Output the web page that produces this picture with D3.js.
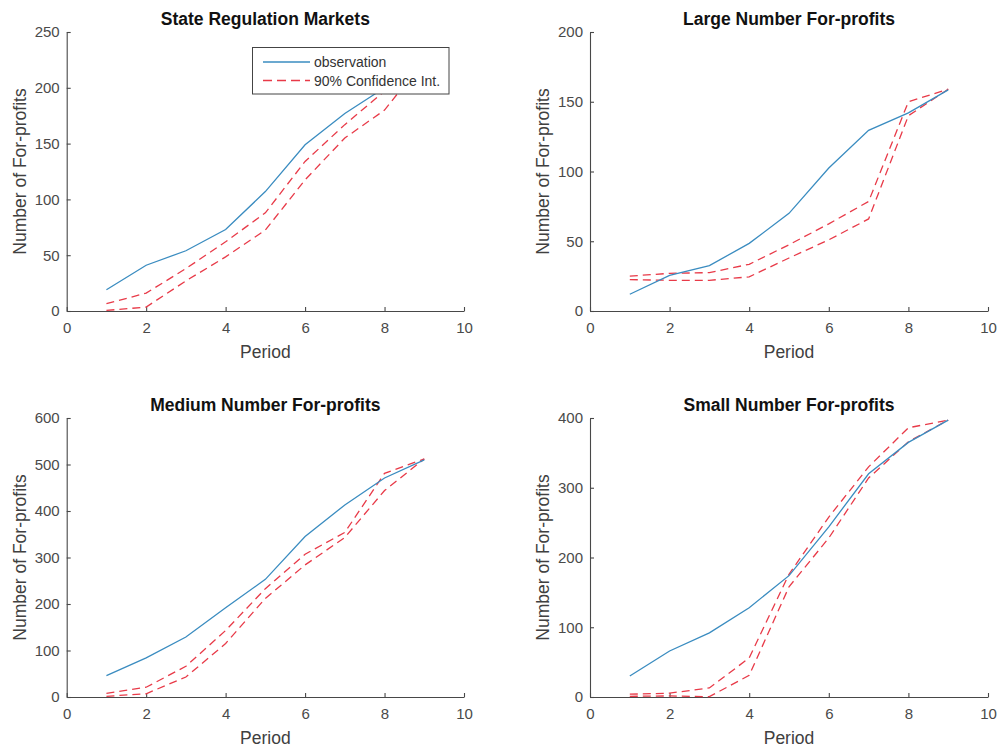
<!DOCTYPE html>
<html>
<head>
<meta charset="utf-8">
<script src="https://cdn.jsdelivr.net/npm/d3@7"></script>
<style>
  html, body { margin: 0; padding: 0; background: #fff; }
  svg { display: block; font-family: "Liberation Sans", Arial, Helvetica, sans-serif; }
</style>
</head>
<body>
<svg id="chart" width="1002" height="753"></svg>
<script>
// ---- data ----
const periods = [1, 2, 3, 4, 5, 6, 7, 8, 9];
const xTicks = [0, 2, 4, 6, 8, 10];

const stateObs   = [19, 41, 54, 73, 107, 149, 177, 200, 225];
const stateUpper = [6.5, 16, 38, 62, 88, 134, 167, 197, 225];
const stateLower = [0.5, 3.5, 27, 48.5, 72.5, 117.5, 155, 180, 225];
const stateTicks = [0, 50, 100, 150, 200, 250];

const largeObs   = [12, 25.5, 32.5, 48.5, 70, 102.5, 129.5, 142, 158.5];
const largeUpper = [25, 27, 27.5, 33.5, 47.5, 62.5, 78.5, 150, 159];
const largeLower = [22.5, 22, 22, 24.5, 38, 51, 66, 140, 159];
const largeTicks = [0, 50, 100, 150, 200];

const mediumObs   = [46, 84, 129, 192, 253, 345, 413, 471, 510];
const mediumUpper = [8, 21, 66, 143, 233, 307, 354, 481, 512];
const mediumLower = [1.5, 7, 43, 115, 212, 284, 343, 444, 512];
const mediumTicks = [0, 100, 200, 300, 400, 500, 600];

const smallObs   = [30, 66, 92, 128, 174, 244, 320, 365, 397];
const smallUpper = [4, 5.5, 13, 56, 176, 258, 330, 386, 397];
const smallLower = [1, 1.5, 0.5, 31, 158, 228, 314, 366, 397];
const smallTicks = [0, 100, 200, 300, 400];

const titles = ["State Regulation Markets", "Large Number For-profits",
                "Medium Number For-profits", "Small Number For-profits"];
const xLabel = "Period";
const yLabel = "Number of For-profits";
const legendLabels = ["observation", "90% Confidence Int."];

// ---- layout ----
const panels = [
  { title: titles[0], obs: stateObs,  up: stateUpper,  lo: stateLower,  yTicks: stateTicks,  x0: 66.7, x1: 464, y0: 32,  y1: 311, legend: true },
  { title: titles[1], obs: largeObs,  up: largeUpper,  lo: largeLower,  yTicks: largeTicks,  x0: 590,  x1: 988, y0: 32,  y1: 311 },
  { title: titles[2], obs: mediumObs, up: mediumUpper, lo: mediumLower, yTicks: mediumTicks, x0: 66.7, x1: 464, y0: 418, y1: 697 },
  { title: titles[3], obs: smallObs,  up: smallUpper,  lo: smallLower,  yTicks: smallTicks,  x0: 590,  x1: 988, y0: 418, y1: 697 }
];

const blue = "#3a8cc0";
const red = "#e83a48";
const axisCol = "#484848";
const tickTextCol = "#4a4a4a";

const svg = d3.select("#chart");

panels.forEach(p => {
  const x = d3.scaleLinear().domain([0, 10]).range([p.x0, p.x1]);
  const yMax = p.yTicks[p.yTicks.length - 1];
  const y = d3.scaleLinear().domain([0, yMax]).range([p.y1, p.y0]);
  const g = svg.append("g");

  // axes
  const xa = g.append("g").attr("transform", `translate(0,${p.y1})`)
    .call(d3.axisBottom(x).tickValues(xTicks).tickSizeInner(-4).tickSizeOuter(0).tickPadding(11.5).tickFormat(d3.format("d")));
  const ya = g.append("g").attr("transform", `translate(${p.x0},0)`)
    .call(d3.axisLeft(y).tickValues(p.yTicks).tickSizeInner(-4).tickSizeOuter(0).tickPadding(7).tickFormat(d3.format("d")));
  [xa, ya].forEach(a => {
    a.select(".domain").attr("stroke", axisCol).attr("stroke-width", 1.1);
    a.selectAll(".tick line").attr("stroke", axisCol).attr("stroke-width", 1.1);
    a.selectAll(".tick text").attr("fill", tickTextCol).style("font-size", "15px")
      .style("font-family", '"Liberation Sans", Arial, sans-serif');
  });

  const line = d3.line().x((d, i) => x(periods[i])).y(d => y(d));

  g.append("path").datum(p.up).attr("d", line).attr("fill", "none")
    .attr("stroke", red).attr("stroke-width", 1.3).attr("stroke-dasharray", "8,5");
  g.append("path").datum(p.lo).attr("d", line).attr("fill", "none")
    .attr("stroke", red).attr("stroke-width", 1.3).attr("stroke-dasharray", "8,5");
  g.append("path").datum(p.obs).attr("d", line).attr("fill", "none")
    .attr("stroke", blue).attr("stroke-width", 1.3);

  // title
  g.append("text").attr("x", (p.x0 + p.x1) / 2).attr("y", p.y0 - 7.5)
    .attr("text-anchor", "middle").attr("fill", "#111")
    .style("font-size", "17.5px").style("font-weight", "bold").text(p.title);
  // x label
  g.append("text").attr("x", (p.x0 + p.x1) / 2).attr("y", p.y1 + 46.5)
    .attr("text-anchor", "middle").attr("fill", "#404040")
    .style("font-size", "17.5px").text(xLabel);
  // y label
  const cy = (p.y0 + p.y1) / 2;
  const lx = p.x0 - 41;
  g.append("text").attr("transform", `translate(${lx},${cy}) rotate(-90)`)
    .attr("text-anchor", "middle").attr("fill", "#404040")
    .style("font-size", "17.5px").text(yLabel);

  if (p.legend) {
    const lg = g.append("g");
    lg.append("rect").attr("x", 252.5).attr("y", 47.5).attr("width", 196.5).attr("height", 46.5)
      .attr("fill", "#fff").attr("stroke", "#444").attr("stroke-width", 1);
    lg.append("line").attr("x1", 263).attr("x2", 310).attr("y1", 62).attr("y2", 62)
      .attr("stroke", blue).attr("stroke-width", 1.3);
    lg.append("line").attr("x1", 263).attr("x2", 310).attr("y1", 80.5).attr("y2", 80.5)
      .attr("stroke", red).attr("stroke-width", 1.3).attr("stroke-dasharray", "9,5");
    lg.append("text").attr("x", 314).attr("y", 67).attr("fill", "#333")
      .style("font-size", "14px").text(legendLabels[0]);
    lg.append("text").attr("x", 314).attr("y", 85.5).attr("fill", "#333")
      .style("font-size", "14px").text(legendLabels[1]);
  }
});
</script>
</body>
</html>
